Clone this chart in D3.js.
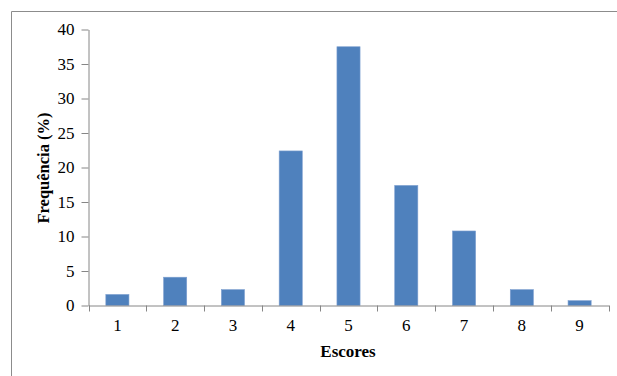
<!DOCTYPE html>
<html>
<head>
<meta charset="utf-8">
<script src="https://cdn.jsdelivr.net/npm/d3@7"></script>
<style>
  html, body { margin: 0; padding: 0; background: #fff; }
  svg { display: block; }
  text { font-family: "Liberation Serif", "Times New Roman", serif; fill: #000; }
</style>
</head>
<body>
<svg id="chart" width="617" height="376"></svg>
<script>
const categories = ["1", "2", "3", "4", "5", "6", "7", "8", "9"];
const values = [1.6, 4.1, 2.3, 22.4, 37.5, 17.4, 10.8, 2.3, 0.7];
const yTicks = [0, 5, 10, 15, 20, 25, 30, 35, 40];
const xTitle = "Escores";
const yTitle = "Frequência (%)";

(function () {
const svg = d3.select("#chart");
const W = 617, H = 376;
const mLeft = 88.5, mRight = 608.5, mTop = 29.5, mBottom = 305.5;
const axisColor = "#868686";

// outer frame (top and left visible)
svg.append("path")
  .attr("d", `M11.5,${H} L11.5,11.5 L${W},11.5`)
  .attr("fill", "none").attr("stroke", "#8c8c8c").attr("stroke-width", 1);

const x = d3.scaleBand().domain(categories).range([mLeft, mRight]).padding(0);
const y = d3.scaleLinear().domain([0, 40]).range([mBottom, mTop]);

// bars
svg.append("g").selectAll("rect")
  .data(values)
  .join("rect")
  .attr("x", (d, i) => x(categories[i]) + x.bandwidth() * 0.3)
  .attr("width", x.bandwidth() * 0.4)
  .attr("y", d => y(d))
  .attr("height", d => y(0) - y(d))
  .attr("fill", "#4F81BD")
  .attr("stroke", "#7d9fd0")
  .attr("stroke-width", 0.6);

// y axis
const yAxis = svg.append("g")
  .attr("transform", `translate(${mLeft},0)`)
  .call(d3.axisLeft(y).tickValues(yTicks).tickSize(7).tickSizeOuter(0).tickPadding(7));
yAxis.select(".domain").attr("stroke", axisColor);
yAxis.selectAll(".tick line").attr("stroke", axisColor);
yAxis.selectAll(".tick text")
  .attr("font-size", 17)
  .attr("font-family", "Liberation Serif")
  .attr("fill", "#000");

// x axis
const xAxis = svg.append("g")
  .attr("transform", `translate(0,${mBottom})`)
  .call(d3.axisBottom(x).tickSize(0).tickSizeOuter(0).tickPadding(13));
xAxis.select(".domain").attr("stroke", axisColor);
xAxis.selectAll(".tick text")
  .attr("font-size", 17)
  .attr("font-family", "Liberation Serif")
  .attr("fill", "#000");

// x ticks at category boundaries
const boundaries = categories.map(c => x(c)).concat([x(categories[categories.length - 1]) + x.bandwidth()]);
svg.append("g").selectAll("line")
  .data(boundaries)
  .join("line")
  .attr("x1", d => Math.round(d) + 0.5).attr("x2", d => Math.round(d) + 0.5)
  .attr("y1", mBottom).attr("y2", mBottom + 6)
  .attr("stroke", axisColor);

// titles
svg.append("text")
  .attr("x", (mLeft + mRight) / 2 - 0.5)
  .attr("y", 357)
  .attr("text-anchor", "middle")
  .attr("font-size", 17)
  .attr("font-weight", "bold")
  .text(xTitle);

svg.append("text")
  .attr("transform", `translate(49,168) rotate(-90)`)
  .attr("text-anchor", "middle")
  .attr("font-size", 16.5)
  .attr("font-weight", "bold")
  .text(yTitle);
})();
</script>
</body>
</html>
